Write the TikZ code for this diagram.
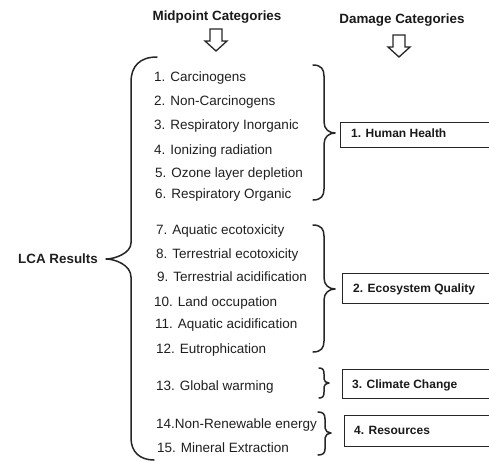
\documentclass[tikz,border=0pt]{standalone}
\usepackage{fontspec}
\setmainfont{Liberation Sans}
\begin{document}
\begin{tikzpicture}[x=1pt,y=-1pt,
  item/.style={anchor=base west,inner sep=0pt,font=\fontsize{13.5}{16}\selectfont,text=black!88},
  head/.style={anchor=base,inner sep=0pt,font=\fontsize{13.4}{16}\selectfont\bfseries,text=black!90},
  dmg/.style={anchor=base west,inner sep=0pt,font=\fontsize{12}{14}\selectfont\bfseries,text=black!90},
  brc/.style={draw=black!85,line width=1.5pt,line cap=round,line join=round},
  dbox/.style={draw=black!85,line width=1pt},
  harrow/.style={draw=black!85,line width=1.3pt,line join=miter}]
\clip (0,0) rectangle (489,461);
% headers
\node[head] (hmid) at (217,20) {Midpoint Categories};
\node[head] (hdmg) at (402,23) {Damage Categories};
% hollow arrows
\draw[harrow] (210,29) -- (222,29) -- (222,41) -- (227,41) -- (216,51) -- (205,41) -- (210,41) -- cycle;
\draw[harrow] (393,35) -- (405,35) -- (405,47) -- (410,47) -- (399,57) -- (388,47) -- (393,47) -- cycle;
% LCA results
\node[item,font=\fontsize{13.4}{16}\selectfont\bfseries] (lca) at (18,263) {LCA Results};
% big left brace
\draw[brc] (157,57) .. controls (140,57) and (131,66) .. (131,82) -- (131,243)
  .. controls (131,253) and (115,259) .. (106,259)
  .. controls (115,259) and (131,265) .. (131,277) -- (131,438)
  .. controls (131,452) and (140,460) .. (154,460);
% midpoint items
\node[item] (m1) at (154,81) {1. Carcinogens};
\node[item] (m2) at (154,105) {2. Non-Carcinogens};
\node[item] (m3) at (154,129) {3. Respiratory Inorganic};
\node[item] (m4) at (154,154) {4. Ionizing radiation};
\node[item] (m5) at (155,177) {5. Ozone layer depletion};
\node[item] (m6) at (155,198) {6. Respiratory Organic};
\node[item] (m7) at (156,234) {7. Aquatic ecotoxicity};
\node[item] (m8) at (156,258) {8. Terrestrial ecotoxicity};
\node[item] (m9) at (157,281) {9. Terrestrial acidification};
\node[item] (m10) at (154,306) {10. Land occupation};
\node[item] (m11) at (155,328) {11. Aquatic acidification};
\node[item] (m12) at (156,353) {12. Eutrophication};
\node[item] (m13) at (156,390) {13. Global warming};
\node[item] (m14) at (156,428) {14.Non-Renewable energy};
\node[item] (m15) at (157,452) {15. Mineral Extraction};
% right braces
\draw[brc] (313,65) .. controls (321,65) and (324,69) .. (324,76) -- (324,122)
  .. controls (324,129) and (329,133) .. (335,133)
  .. controls (329,133) and (324,137) .. (324,144) -- (324,189)
  .. controls (324,196) and (321,200) .. (313,200);
\draw[brc] (313,225) .. controls (321,225) and (324,229) .. (324,236) -- (324,278)
  .. controls (324,285) and (329,289) .. (335,289)
  .. controls (329,289) and (324,293) .. (324,300) -- (324,341)
  .. controls (324,348) and (321,352) .. (313,352);
\draw[brc] (319,368) .. controls (323,368) and (324,370) .. (324,374) -- (324,379)
  .. controls (324,381) and (326,383) .. (329,383)
  .. controls (326,383) and (324,385) .. (324,387) -- (324,392)
  .. controls (324,396) and (323,398) .. (319,398);
\draw[brc] (318,412) .. controls (323,412) and (325,414) .. (325,419) -- (325,428)
  .. controls (325,431) and (328,433) .. (331,433)
  .. controls (328,433) and (325,435) .. (325,438) -- (325,449)
  .. controls (325,453) and (323,455) .. (318,455);
% damage boxes
\draw[dbox] (340,122) rectangle (496,147);
\draw[dbox] (342,273) rectangle (496,303);
\draw[dbox] (342,369) rectangle (496,398);
\draw[dbox] (344,415) rectangle (496,446);
\node[dmg] (d1) at (351,137) {1. Human Health};
\node[dmg] (d2) at (353,292) {2. Ecosystem Quality};
\node[dmg] (d3) at (352,388) {3. Climate Change};
\node[dmg] (d4) at (354,434) {4. Resources};
\end{tikzpicture}
\end{document}
